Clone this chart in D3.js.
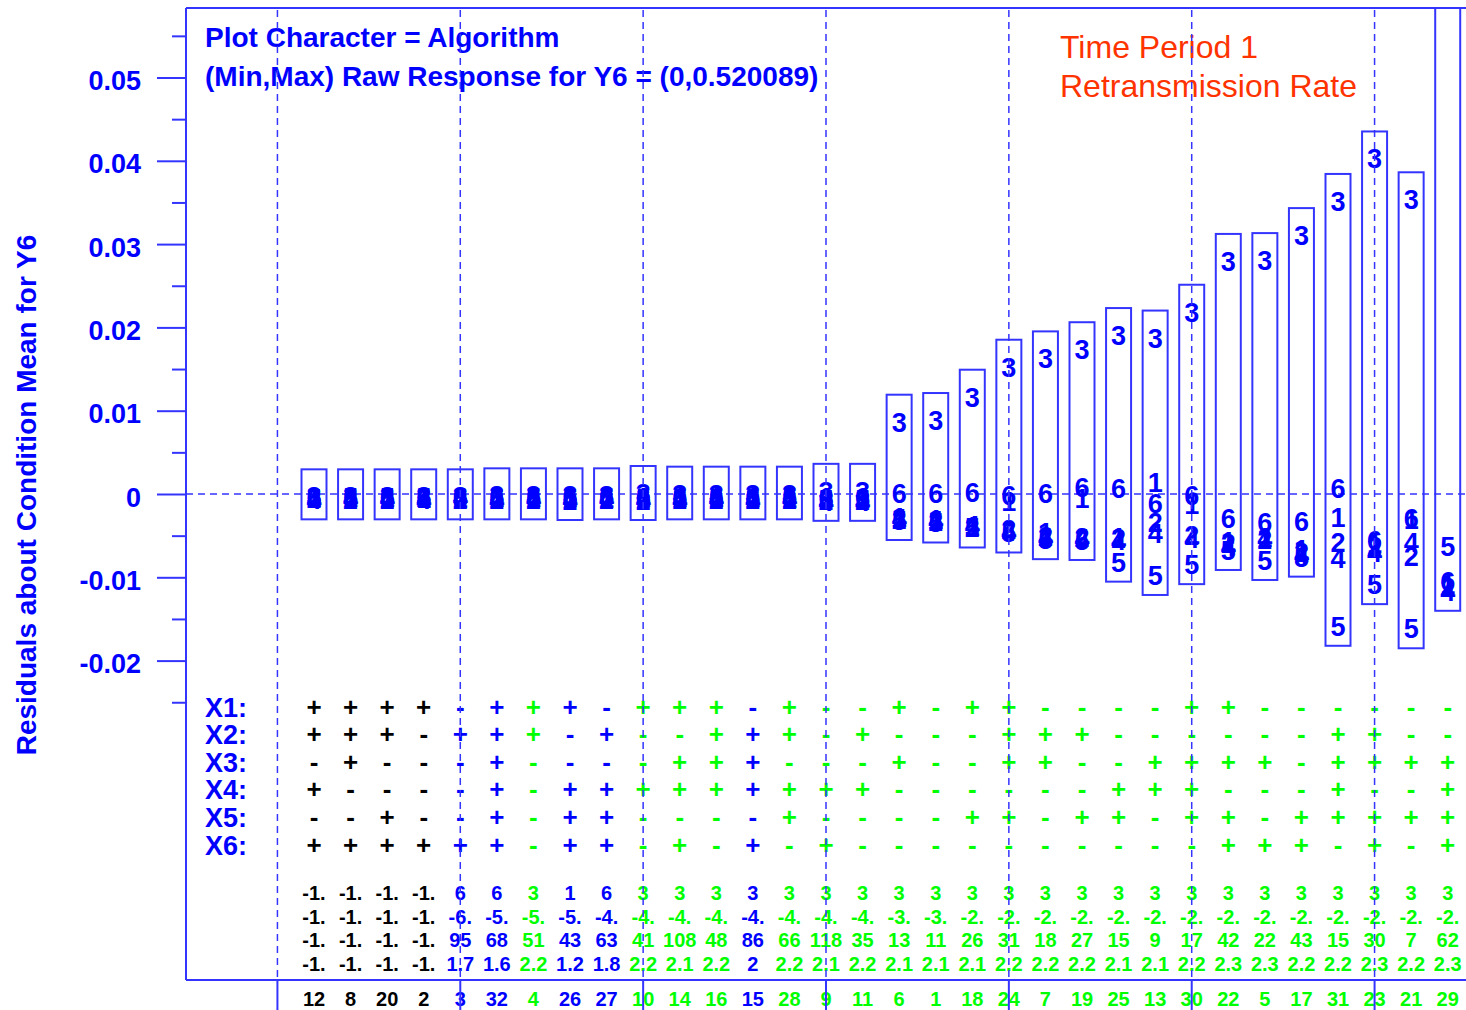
<!DOCTYPE html>
<html>
<head>
<meta charset="utf-8">
<script src="https://cdn.jsdelivr.net/npm/d3@7"></script>
<style>
  html, body { margin: 0; padding: 0; background: #fff; }
  svg { display: block; font-family: "Liberation Sans", Arial, Helvetica, sans-serif; }
</style>
</head>
<body>
<svg id="chart" width="1466" height="1010"></svg>
<script>
// ---- run order along the x axis (positions 1..32) ----
const runs = [12, 8, 20, 2, 3, 32, 4, 26, 27, 10, 14, 16, 15, 28, 9, 11,
              6, 1, 18, 24, 7, 19, 25, 13, 30, 22, 5, 17, 31, 23, 21, 29];

// colour group of each run: k = black, b = blue, g = green
const runGroup = ["k","k","k","k","b","b","g","b","b","g","g","g","b","g","g","g",
                  "g","g","g","g","g","g","g","g","g","g","g","g","g","g","g","g"];

// factor settings per run
const factorNames = ["X1:", "X2:", "X3:", "X4:", "X5:", "X6:"];
const X1 = "++++-+++-+++-+--+-++----++------";
const X2 = "+++-+++-+--+++-+---+++------++--";
const X3 = "-+---+----+++---+--++--++++-++++";
const X4 = "+----+-+++++++++------+++---+--+";
const X5 = "--+--+-++----+----++-++-++-+++++";
const X6 = "++++++-++-+-+-+----------+++-+-+";

// summary rows printed under the factor table
const rowA = ["-1.","-1.","-1.","-1.","6","6","3","1","6","3","3","3","3","3","3","3",
              "3","3","3","3","3","3","3","3","3","3","3","3","3","3","3","3"];
const rowB = ["-1.","-1.","-1.","-1.","-6.","-5.","-5.","-5.","-4.","-4.","-4.","-4.","-4.","-4.","-4.","-4.",
              "-3.","-3.","-2.","-2.","-2.","-2.","-2.","-2.","-2.","-2.","-2.","-2.","-2.","-2.","-2.","-2."];
const rowC = ["-1.","-1.","-1.","-1.","95","68","51","43","63","41","108","48","86","66","118","35",
              "13","11","26","31","18","27","15","9","17","42","22","43","15","30","7","62"];
const rowD = ["-1.","-1.","-1.","-1.","1.7","1.6","2.2","1.2","1.8","2.2","2.1","2.2","2","2.2","2.1","2.2",
              "2.1","2.1","2.1","2.2","2.2","2.2","2.1","2.1","2.2","2.3","2.3","2.2","2.2","2.3","2.2","2.3"];

// residuals about the condition mean, one array per algorithm (plot character)
const alg1 = [0.0001, 0.00005, 0.0001, -0.0001, 0.0, 0.0001, 0.00005, 0.0001, 0.0, 0.0001, 0.0001, 0.00005, 0.0001, 0.0, 0.0001, 0.0,
              -0.0024, -0.0026, -0.0034, -0.0004, -0.0042, -0.0001, -0.0047, 0.0019, -0.0008, -0.0052, -0.0047, -0.0062, -0.0024, -0.0055, -0.0026, -0.0104];
const alg2 = [-0.0001, -0.0002, -0.00022, 0.00005, -0.00022, -0.0002, -0.00022, -0.0003, -0.00022, -0.0003, -0.00022, -0.00022, -0.0002, -0.00022, -0.0003, -0.0003,
              -0.0026, -0.0028, -0.0035, -0.0038, -0.0046, -0.0047, -0.0049, -0.0029, -0.0045, -0.0055, -0.0050, -0.0065, -0.0053, -0.0058, -0.0070, -0.0108];
const alg3 = [0.00014, 0.00014, 0.00014, 0.00014, 0.00014, 0.00026, 0.00026, 0.00026, 0.00026, 0.00054, 0.00046, 0.00046, 0.00046, 0.00046, 0.0008, 0.0008,
              0.0091, 0.0093, 0.0121, 0.0157, 0.0167, 0.0178, 0.0195, 0.0192, 0.0223, 0.0284, 0.0285, 0.0315, 0.0356, 0.0407, 0.0358, 0.0720];
const alg4 = [-0.00022, -0.0001, -0.0001, -0.00022, 0.0001, -0.00022, -0.0001, -0.0002, -0.0001, -0.0002, -0.0002, -0.0001, -0.00022, -0.0001, -0.0004, -0.0004,
              -0.0025, -0.0027, -0.0033, -0.0040, -0.0048, -0.0049, -0.0051, -0.0043, -0.0049, -0.0058, -0.0049, -0.0068, -0.0073, -0.0066, -0.0053, -0.0112];
const alg5 = [0.0, 0.0001, 0.00005, 0.0001, -0.0001, 0.0, 0.0001, 0.0, 0.0001, 0.0, 0.0, 0.0, 0.0, 0.00005, -0.0002, -0.0002,
              -0.0027, -0.0030, -0.0036, -0.0042, -0.0050, -0.0051, -0.0077, -0.0093, -0.0080, -0.0063, -0.0075, -0.0071, -0.0154, -0.0104, -0.0157, -0.0058];
const alg6 = [0.00005, -0.00022, 0.0, 0.0, 0.00005, 0.00005, -0.0002, 0.00005, 0.00005, -0.0001, -0.0001, -0.0002, -0.0001, -0.0002, 0.0, 0.0001,
              0.0005, 0.0005, 0.0007, 0.0003, 0.0005, 0.0013, 0.0011, -0.0007, 0.0003, -0.0025, -0.0030, -0.0028, 0.0011, -0.0051, -0.0025, -0.0100];

// y axis ticks
const majorTicks = [0.05, 0.04, 0.03, 0.02, 0.01, 0, -0.01, -0.02];
const minorTicks = [0.055, 0.045, 0.035, 0.025, 0.015, 0.005, -0.005, -0.015, -0.025];

// ---- drawing ----
const BLUE = "#0000ff", LINE = "#3434ff", GREEN = "#00ff00", BLACK = "#000000";
const groupColor = { k: BLACK, b: BLUE, g: GREEN };

const svg = d3.select("#chart");
const frame = { left: 186, top: 8, right: 1466, bottom: 980 };

const x = d3.scaleLinear().domain([-2.5, 32.5]).range([frame.left, frame.right]);
const y = d3.scaleLinear().domain([0, 0.05]).range([494, 77.5]);
const positions = d3.range(1, runs.length + 1);

// clip for plot marks
svg.append("defs").append("clipPath").attr("id", "plotClip")
  .append("rect").attr("x", frame.left).attr("y", frame.top)
  .attr("width", frame.right - frame.left).attr("height", frame.bottom - frame.top);

// frame
const fr = svg.append("g").attr("stroke", LINE).attr("stroke-width", 2).attr("fill", "none");
fr.append("line").attr("x1", frame.left).attr("x2", frame.left).attr("y1", frame.top).attr("y2", frame.bottom);
fr.append("line").attr("x1", frame.left).attr("x2", frame.right).attr("y1", frame.top).attr("y2", frame.top);
fr.append("line").attr("x1", frame.left).attr("x2", frame.right).attr("y1", frame.bottom).attr("y2", frame.bottom);

// y axis: major ticks with labels, minor ticks without
const fmt = d => d === 0 ? "0" : d.toFixed(2);
const yAxis = svg.append("g").attr("transform", `translate(${frame.left},0)`)
  .call(d3.axisLeft(y).tickValues(majorTicks).tickSize(29).tickPadding(16).tickFormat(fmt));
yAxis.select(".domain").remove();
yAxis.selectAll(".tick line").attr("stroke", LINE).attr("stroke-width", 2);
yAxis.selectAll(".tick text")
  .attr("fill", BLUE).attr("dy", "0.45em")
  .style("font-family", "'Liberation Sans', Arial, sans-serif")
  .style("font-size", "27px").style("font-weight", "bold");

const yMinor = svg.append("g").attr("transform", `translate(${frame.left},0)`)
  .call(d3.axisLeft(y).tickValues(minorTicks).tickSize(14).tickFormat(""));
yMinor.select(".domain").remove();
yMinor.selectAll(".tick line").attr("stroke", LINE).attr("stroke-width", 2);

// y axis title
svg.append("text")
  .attr("transform", "translate(36,495) rotate(-90)")
  .attr("text-anchor", "middle")
  .attr("fill", BLUE).style("font-size", "28px").style("font-weight", "bold")
  .text("Residuals about Condition Mean for Y6");

// zero reference line
svg.append("line")
  .attr("x1", frame.left).attr("x2", frame.right)
  .attr("y1", y(0)).attr("y2", y(0))
  .attr("stroke", LINE).attr("stroke-width", 1.5).attr("stroke-dasharray", "7,5");

// headings
const head = svg.append("g").attr("fill", BLUE).style("font-size", "28px").style("font-weight", "bold");
head.append("text").attr("x", 205).attr("y", 47).text("Plot Character = Algorithm");
head.append("text").attr("x", 205).attr("y", 86).text("(Min,Max) Raw Response for Y6 = (0,0.520089)");

const red = svg.append("g").attr("fill", "#ff3300").style("font-size", "32px");
red.append("text").attr("x", 1060).attr("y", 58).text("Time Period 1");
red.append("text").attr("x", 1060).attr("y", 97).text("Retransmission Rate");

// residual boxes and plot characters
const series = [alg1, alg2, alg3, alg4, alg5, alg6];
const BOX_HALF_W = 12.5, BOX_PAD = 23.5, CHAR_DROP = 13.5;
const plot = svg.append("g").attr("clip-path", "url(#plotClip)");

const cols = positions.map((p, i) => {
  const vals = series.map(s => s[i]);
  return { p, vals, max: d3.max(vals), min: d3.min(vals) };
});

plot.selectAll("rect.box").data(cols).join("rect")
  .attr("class", "box")
  .attr("x", d => x(d.p) - BOX_HALF_W)
  .attr("width", BOX_HALF_W * 2)
  .attr("y", d => y(d.max) - BOX_PAD)
  .attr("height", d => (y(d.min) + BOX_PAD) - (y(d.max) - BOX_PAD))
  .attr("fill", "none").attr("stroke", LINE).attr("stroke-width", 2);

// characters that fall above the frame are clipped away, so only the visible ones are drawn
const points = [];
cols.forEach(c => c.vals.forEach((v, k) => {
  if (y(v) - 8 > frame.top) points.push({ p: c.p, v, label: String(k + 1) });
}));
plot.selectAll("text.pt").data(points).join("text")
  .attr("class", "pt")
  .attr("x", d => x(d.p))
  .attr("y", d => y(d.v) + CHAR_DROP)
  .attr("text-anchor", "middle")
  .attr("fill", BLUE)
  .style("font-size", "27px").style("font-weight", "bold")
  .text(d => d.label);

// factor table
const factors = [X1, X2, X3, X4, X5, X6].map(s => s.split(""));
const rowY = i => 707 + i * 27.6;
const tbl = svg.append("g");
tbl.selectAll("text.fname").data(factorNames).join("text")
  .attr("class", "fname")
  .attr("x", 205).attr("y", (d, i) => rowY(i) + 9.5)
  .attr("fill", BLUE).style("font-size", "27px").style("font-weight", "bold")
  .text(d => d);

factors.forEach((f, r) => {
  tbl.selectAll(null).data(f).join("text")
    .attr("x", (d, i) => x(positions[i]))
    .attr("y", rowY(r) + 8.5)
    .attr("text-anchor", "middle")
    .attr("fill", (d, i) => groupColor[runGroup[i]])
    .style("font-size", "26px").style("font-weight", "bold")
    .text(d => d);
});

// summary rows and run numbers
const numRows = [
  { vals: rowA, y: 900 },
  { vals: rowB, y: 923.5 },
  { vals: rowC, y: 947 },
  { vals: rowD, y: 971 },
  { vals: runs.map(String), y: 1005.5 }
];
numRows.forEach(row => {
  tbl.selectAll(null).data(row.vals).join("text")
    .attr("x", (d, i) => x(positions[i]))
    .attr("y", row.y)
    .attr("text-anchor", "middle")
    .attr("fill", (d, i) => groupColor[runGroup[i]])
    .style("font-size", "20px").style("font-weight", "bold")
    .text(d => d);
});

// x reference lines every 5 positions: dashed inside the frame, solid ticks below it
const refPos = d3.range(0, 31, 5);
const ref = svg.append("g").attr("stroke", LINE);
ref.selectAll("line.dash").data(refPos).join("line")
  .attr("class", "dash")
  .attr("x1", d => x(d)).attr("x2", d => x(d))
  .attr("y1", frame.top + 2).attr("y2", frame.bottom)
  .attr("stroke-width", 1.5).attr("stroke-dasharray", "7,5");
ref.selectAll("line.tick").data(refPos).join("line")
  .attr("class", "tick")
  .attr("x1", d => x(d)).attr("x2", d => x(d))
  .attr("y1", frame.bottom).attr("y2", 1010)
  .attr("stroke-width", 2);
</script>
</body>
</html>
